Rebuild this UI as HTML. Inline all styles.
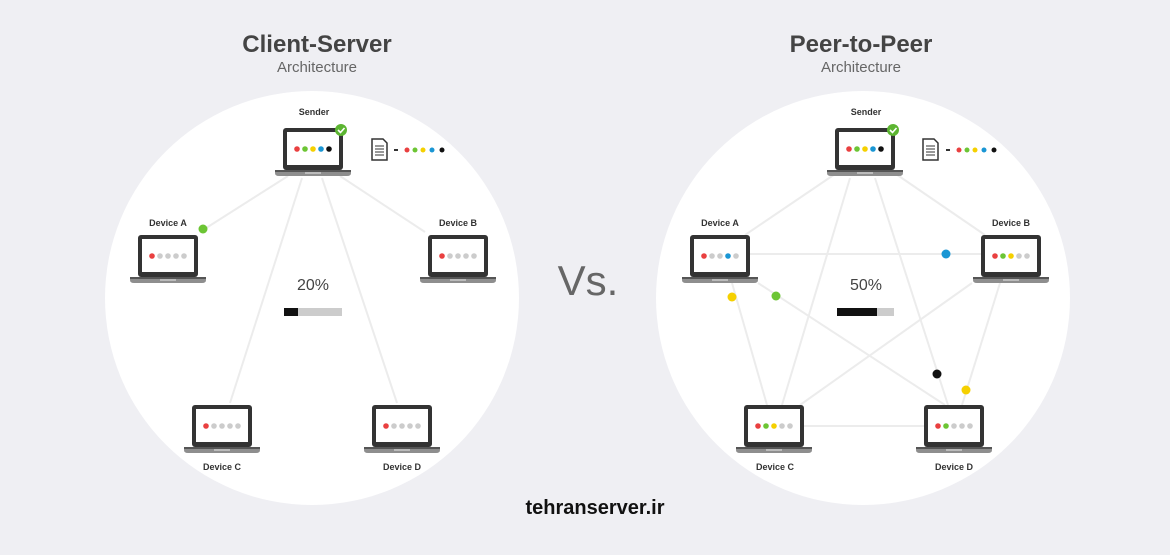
<!DOCTYPE html>
<html><head><style>
body{margin:0;width:1170px;height:550px;background:#efeff3;overflow:hidden;font-family:"Liberation Sans",sans-serif}
</style></head><body>
<svg width="1170" height="550" xmlns="http://www.w3.org/2000/svg" font-family="Liberation Sans, sans-serif">
<defs>
<g id="lap">
<rect x="0" y="0" width="60" height="42" rx="3" fill="#333"/>
<rect x="4" y="4" width="52" height="33" fill="#fff"/>
<path d="M-8 42 H68 V45 Q68 48 64 48 H-4 Q-8 48 -8 45 Z" fill="#8e8e8e"/>
<rect x="-8" y="42" width="76" height="2" fill="#555"/>
<rect x="22" y="44" width="16" height="2" fill="#bbb"/>
</g>
</defs>
<rect width="1170" height="550" fill="#efeff3"/>
<circle cx="312" cy="298" r="207" fill="#fff"/>
<circle cx="863" cy="298" r="207" fill="#fff"/>
<text x="317" y="52" text-anchor="middle" font-size="24" font-weight="bold" fill="#444">Client-Server</text>
<text x="317" y="72" text-anchor="middle" font-size="15" fill="#666">Architecture</text>
<text x="861" y="52" text-anchor="middle" font-size="24" font-weight="bold" fill="#444">Peer-to-Peer</text>
<text x="861" y="72" text-anchor="middle" font-size="15" fill="#666">Architecture</text>
<text x="588" y="295" text-anchor="middle" font-size="42" fill="#666" font-weight="300">Vs.</text>
<text x="595" y="514" text-anchor="middle" font-size="20" font-weight="bold" fill="#111">tehranserver.ir</text>

<g stroke="#ececec" stroke-width="2" fill="none">
<line x1="288" y1="176" x2="203" y2="230"/>
<line x1="340" y1="176" x2="425" y2="232"/>
<line x1="302" y1="178" x2="230" y2="403"/>
<line x1="322" y1="178" x2="397" y2="403"/>
<line x1="838" y1="172" x2="745" y2="235"/>
<line x1="893" y1="172" x2="985" y2="235"/>
<line x1="850" y1="178" x2="782" y2="405"/>
<line x1="875" y1="178" x2="948" y2="405"/>
<line x1="749" y1="254" x2="981" y2="254"/>
<line x1="804" y1="426" x2="924" y2="426"/>
<line x1="732" y1="283" x2="767" y2="405"/>
<line x1="758" y1="283" x2="945" y2="405"/>
<line x1="972" y1="283" x2="800" y2="405"/>
<line x1="1000" y1="283" x2="962" y2="405"/>
</g>

<g font-size="9" font-weight="bold" fill="#333" text-anchor="middle">
<text x="314" y="115">Sender</text>
<text x="168" y="226">Device A</text>
<text x="458" y="226">Device B</text>
<text x="222" y="470">Device C</text>
<text x="402" y="470">Device D</text>
<text x="866" y="115">Sender</text>
<text x="720" y="226">Device A</text>
<text x="1011" y="226">Device B</text>
<text x="775" y="470">Device C</text>
<text x="954" y="470">Device D</text>
</g>

<!-- left laptops -->
<use href="#lap" x="283" y="128"/>
<use href="#lap" x="138" y="235"/>
<use href="#lap" x="428" y="235"/>
<use href="#lap" x="192" y="405"/>
<use href="#lap" x="372" y="405"/>
<!-- right laptops -->
<use href="#lap" x="835" y="128"/>
<use href="#lap" x="690" y="235"/>
<use href="#lap" x="981" y="235"/>
<use href="#lap" x="744" y="405"/>
<use href="#lap" x="924" y="405"/>

<!-- screen dots -->
<g>
<circle cx="297" cy="149" r="2.8" fill="#e94040"/><circle cx="305" cy="149" r="2.8" fill="#6cc534"/><circle cx="313" cy="149" r="2.8" fill="#f5d000"/><circle cx="321" cy="149" r="2.8" fill="#1a96d4"/><circle cx="329" cy="149" r="2.8" fill="#111"/>
<circle cx="152" cy="256" r="2.8" fill="#e94040"/><circle cx="160" cy="256" r="2.8" fill="#ccc"/><circle cx="168" cy="256" r="2.8" fill="#ccc"/><circle cx="176" cy="256" r="2.8" fill="#ccc"/><circle cx="184" cy="256" r="2.8" fill="#ccc"/>
<circle cx="442" cy="256" r="2.8" fill="#e94040"/><circle cx="450" cy="256" r="2.8" fill="#ccc"/><circle cx="458" cy="256" r="2.8" fill="#ccc"/><circle cx="466" cy="256" r="2.8" fill="#ccc"/><circle cx="474" cy="256" r="2.8" fill="#ccc"/>
<circle cx="206" cy="426" r="2.8" fill="#e94040"/><circle cx="214" cy="426" r="2.8" fill="#ccc"/><circle cx="222" cy="426" r="2.8" fill="#ccc"/><circle cx="230" cy="426" r="2.8" fill="#ccc"/><circle cx="238" cy="426" r="2.8" fill="#ccc"/>
<circle cx="386" cy="426" r="2.8" fill="#e94040"/><circle cx="394" cy="426" r="2.8" fill="#ccc"/><circle cx="402" cy="426" r="2.8" fill="#ccc"/><circle cx="410" cy="426" r="2.8" fill="#ccc"/><circle cx="418" cy="426" r="2.8" fill="#ccc"/>

<circle cx="849" cy="149" r="2.8" fill="#e94040"/><circle cx="857" cy="149" r="2.8" fill="#6cc534"/><circle cx="865" cy="149" r="2.8" fill="#f5d000"/><circle cx="873" cy="149" r="2.8" fill="#1a96d4"/><circle cx="881" cy="149" r="2.8" fill="#111"/>
<circle cx="704" cy="256" r="2.8" fill="#e94040"/><circle cx="712" cy="256" r="2.8" fill="#ccc"/><circle cx="720" cy="256" r="2.8" fill="#ccc"/><circle cx="728" cy="256" r="2.8" fill="#1a96d4"/><circle cx="736" cy="256" r="2.8" fill="#ccc"/>
<circle cx="995" cy="256" r="2.8" fill="#e94040"/><circle cx="1003" cy="256" r="2.8" fill="#6cc534"/><circle cx="1011" cy="256" r="2.8" fill="#f5d000"/><circle cx="1019" cy="256" r="2.8" fill="#ccc"/><circle cx="1027" cy="256" r="2.8" fill="#ccc"/>
<circle cx="758" cy="426" r="2.8" fill="#e94040"/><circle cx="766" cy="426" r="2.8" fill="#6cc534"/><circle cx="774" cy="426" r="2.8" fill="#f5d000"/><circle cx="782" cy="426" r="2.8" fill="#ccc"/><circle cx="790" cy="426" r="2.8" fill="#ccc"/>
<circle cx="938" cy="426" r="2.8" fill="#e94040"/><circle cx="946" cy="426" r="2.8" fill="#6cc534"/><circle cx="954" cy="426" r="2.8" fill="#ccc"/><circle cx="962" cy="426" r="2.8" fill="#ccc"/><circle cx="970" cy="426" r="2.8" fill="#ccc"/>
</g>

<!-- checkmarks -->
<g>
<circle cx="341" cy="130" r="6" fill="#5cb531"/><path d="M338 130 l2.5 2.5 l4 -4.5" stroke="#fff" stroke-width="1.6" fill="none"/>
<circle cx="893" cy="130" r="6" fill="#5cb531"/><path d="M890 130 l2.5 2.5 l4 -4.5" stroke="#fff" stroke-width="1.6" fill="none"/>
</g>

<!-- document legends -->
<g>
<path d="M372 139 h11 l4 4 v17 h-15 z" fill="#fff" stroke="#333" stroke-width="1.5"/>
<g stroke="#333" stroke-width="1"><line x1="375" y1="146" x2="384" y2="146"/><line x1="375" y1="149" x2="384" y2="149"/><line x1="375" y1="152" x2="384" y2="152"/><line x1="375" y1="155" x2="384" y2="155"/></g>
<rect x="394" y="149" width="4" height="2" fill="#333"/>
<circle cx="407" cy="150" r="2.5" fill="#e94040"/><circle cx="415" cy="150" r="2.5" fill="#6cc534"/><circle cx="423" cy="150" r="2.5" fill="#f5d000"/><circle cx="432" cy="150" r="2.5" fill="#1a96d4"/><circle cx="442" cy="150" r="2.5" fill="#111"/>
<path d="M923 139 h11 l4 4 v17 h-15 z" fill="#fff" stroke="#333" stroke-width="1.5"/>
<g stroke="#333" stroke-width="1"><line x1="926" y1="146" x2="935" y2="146"/><line x1="926" y1="149" x2="935" y2="149"/><line x1="926" y1="152" x2="935" y2="152"/><line x1="926" y1="155" x2="935" y2="155"/></g>
<rect x="946" y="149" width="4" height="2" fill="#333"/>
<circle cx="959" cy="150" r="2.5" fill="#e94040"/><circle cx="967" cy="150" r="2.5" fill="#6cc534"/><circle cx="975" cy="150" r="2.5" fill="#f5d000"/><circle cx="984" cy="150" r="2.5" fill="#1a96d4"/><circle cx="994" cy="150" r="2.5" fill="#111"/>
</g>

<!-- progress -->
<text x="313" y="290" text-anchor="middle" font-size="16" fill="#444">20%</text>
<rect x="284" y="308" width="58" height="8" fill="#ccc"/><rect x="284" y="308" width="14" height="8" fill="#111"/>
<text x="866" y="290" text-anchor="middle" font-size="16" fill="#444">50%</text>
<rect x="837" y="308" width="57" height="8" fill="#ccc"/><rect x="837" y="308" width="40" height="8" fill="#111"/>

<!-- traveling dots -->
<circle cx="203" cy="229" r="4.5" fill="#6cc534"/>
<circle cx="946" cy="254" r="4.5" fill="#1a96d4"/>
<circle cx="732" cy="297" r="4.5" fill="#f5d000"/>
<circle cx="776" cy="296" r="4.5" fill="#6cc534"/>
<circle cx="937" cy="374" r="4.5" fill="#111"/>
<circle cx="966" cy="390" r="4.5" fill="#f5d000"/>
</svg>
</body></html>
